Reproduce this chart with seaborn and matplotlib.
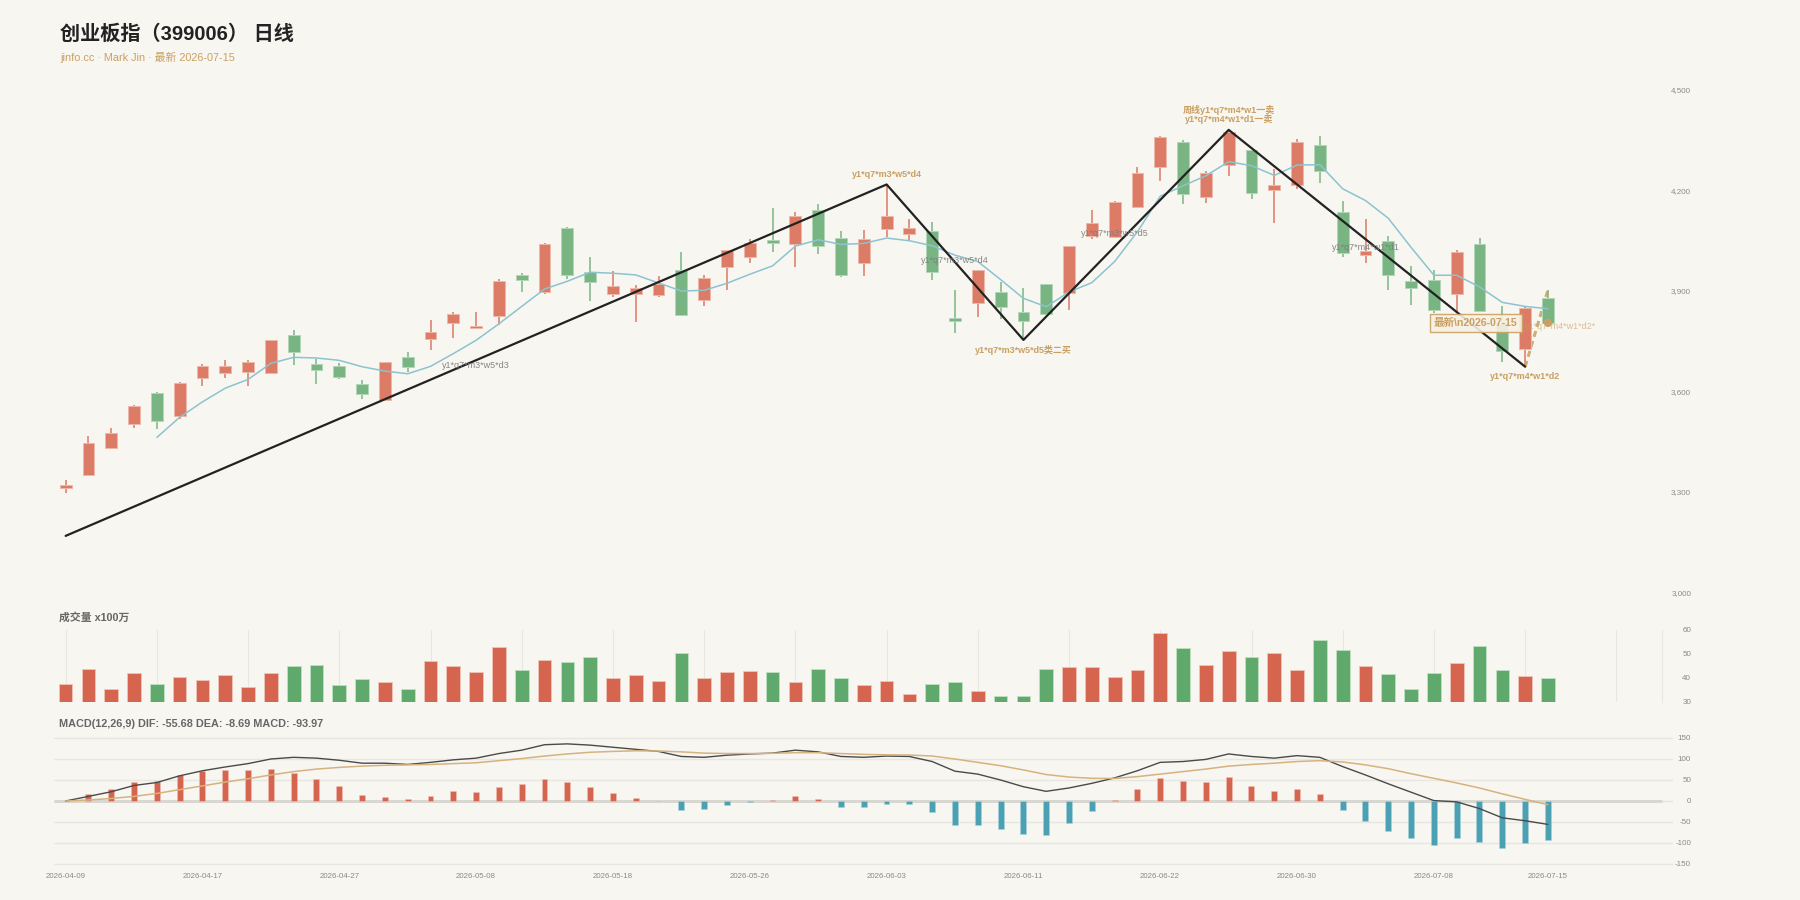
"""
创业板指 daily K-line with zigzag strokes, volume and MACD panels
"""
import numpy as np
import pandas as pd
import seaborn as sns
import matplotlib.pyplot as plt

# ---- data ----
dates = pd.bdate_range('2026-04-09', '2026-07-15', freq='C',
                       holidays=['2026-05-01', '2026-05-04', '2026-05-05', '2026-06-19'])

opens = [3313, 3351, 3430, 3504, 3595, 3528, 3640, 3654, 3659, 3656,
         3769, 3682, 3677, 3622, 3575, 3703, 3758, 3805, 3790, 3826,
         3947, 3897, 4087, 3958, 3892, 3892, 3887, 3962, 3874, 3973,
         4001, 4053, 4039, 4142, 4057, 3985, 4086, 4071, 4080, 3818,
         3863, 3896, 3837, 3920, 3894, 4064, 4060, 4152, 4271, 4345,
         4180, 4277, 4321, 4200, 4216, 4337, 4135, 4008, 4050, 3931,
         3932, 3890, 4041, 3803, 3727, 3878]
highs = [3337, 3468, 3490, 3560, 3598, 3628, 3683, 3694, 3693, 3755,
         3784, 3697, 3684, 3634, 3689, 3717, 3813, 3837, 3838, 3936,
         3954, 4042, 4090, 4002, 3960, 3917, 3945, 4015, 3947, 4022,
         4056, 4147, 4135, 4159, 4080, 4082, 4218, 4114, 4105, 3902,
         3963, 3926, 3909, 3921, 4034, 4141, 4168, 4271, 4362, 4351,
         4259, 4381, 4322, 4263, 4353, 4362, 4168, 4115, 4064, 3975,
         3963, 4022, 4059, 3855, 3853, 3903]
lows = [3298, 3350, 3428, 3491, 3489, 3517, 3617, 3641, 3617, 3654,
        3679, 3623, 3637, 3578, 3573, 3658, 3723, 3760, 3786, 3798,
        3896, 3892, 3936, 3870, 3882, 3807, 3883, 3826, 3854, 3904,
        3984, 4015, 3971, 4010, 3943, 3945, 4061, 4050, 3932, 3776,
        3822, 3817, 3754, 3829, 3842, 4054, 4059, 4150, 4229, 4160,
        4162, 4242, 4176, 4104, 4205, 4221, 4000, 3985, 3902, 3859,
        3833, 3835, 3840, 3689, 3674, 3800]
closes = [3321, 3447, 3475, 3558, 3512, 3625, 3677, 3676, 3688, 3753,
          3717, 3664, 3644, 3594, 3687, 3674, 3778, 3832, 3796, 3929,
          3933, 4039, 3949, 3928, 3915, 3908, 3920, 3828, 3938, 4021,
          4042, 4044, 4125, 4035, 3949, 4055, 4124, 4089, 3956, 3809,
          3962, 3853, 3809, 3830, 4033, 4102, 4167, 4252, 4361, 4190,
          4252, 4376, 4192, 4216, 4344, 4259, 4014, 4019, 3947, 3910,
          3843, 4017, 3841, 3721, 3850, 3805]

# MA5, first value sits on the 5th candle
ma5 = [3463, 3523, 3569, 3610, 3636, 3684, 3702, 3700, 3693, 3674,
       3661, 3653, 3675, 3713, 3753, 3802, 3854, 3906, 3929, 3956,
       3953, 3948, 3924, 3900, 3902, 3923, 3950, 3975, 4034, 4053,
       4039, 4042, 4058, 4050, 4035, 4007, 3988, 3934, 3878, 3853,
       3897, 3925, 3988, 4077, 4183, 4214, 4244, 4286, 4274, 4245,
       4276, 4277, 4205, 4170, 4117, 4030, 3947, 3947, 3912, 3866,
       3854, 3847]

volume = [37.3, 43.5, 35.3, 41.9, 37.5, 40.3, 39.2, 41.0, 36.0, 41.9,
          44.8, 45.3, 37.1, 39.5, 38.4, 35.5, 47.0, 44.9, 42.6, 53.0,
          43.3, 47.4, 46.6, 48.7, 39.8, 41.3, 38.7, 50.4, 39.9, 42.3,
          42.7, 42.4, 38.4, 43.8, 39.8, 37.0, 38.7, 33.4, 37.4, 38.1,
          34.5, 32.4, 32.5, 43.5, 44.4, 44.5, 40.2, 43.4, 58.7, 52.3,
          45.3, 51.1, 48.7, 50.2, 43.4, 55.8, 51.5, 44.9, 41.4, 35.4,
          42.1, 46.0, 53.4, 43.3, 40.6, 39.9]

dif = [0, 11, 22, 37, 44, 60, 72, 81, 89, 100,
       104, 102, 97, 90, 90, 87, 92, 98, 102, 113,
       121, 134, 136, 133, 128, 123, 118, 106, 104, 109,
       112, 114, 121, 117, 106, 104, 107, 106, 94, 71,
       64, 50, 34, 23, 31, 42, 55, 72, 92, 94,
       99, 112, 106, 102, 108, 104, 82, 62, 41, 21,
       1, -2, -18, -40, -47, -55.68]
dea = [0, 2.4, 6, 11, 18, 27, 36, 45, 53, 62,
       70, 76, 80, 83, 85, 86, 87, 89, 91, 96,
       101, 107, 112, 116, 118, 119.5, 119, 117, 114, 113,
       113, 113.5, 115, 115, 113, 111, 110, 109.5, 107, 100,
       92, 84, 74, 63, 57, 54, 53.6, 58, 64, 70,
       76, 83, 87, 90, 94, 96, 93, 86, 77, 65,
       54, 43, 31, 17, 4, -8.69]
macd_hist = [0, 16.7, 29.4, 46, 48.4, 61.9, 72.2, 74.6, 73, 75.4,
             67.5, 51.6, 35, 14.3, 10.3, 4.8, 12.7, 23, 21.4, 34.1,
             39.7, 52.4, 45.3, 32.5, 19, 7.1, -1, -20.6, -19.8, -9.5,
             -1.6, 1.5, 11, 3.9, -15, -14.3, -6.3, -6.3, -26.2, -57.1,
             -56.3, -67.4, -79.4, -80.2, -52.4, -23.8, 2.4, 27.8, 55.6, 47.6,
             46, 57.2, 36.5, 23, 27.8, 16.7, -22.2, -47.6, -72.2, -88.9,
             -105.5, -88.1, -96.8, -112.7, -100.8, -93.97]

# zigzag strokes (pivot candle, price) and their labels
zz_idx = [0, 36, 42, 51, 64]
zz_price = [3169, 4218, 3754, 4381, 3674]
zz_text = ['', 'y1*q7*m3*w5*d4', 'y1*q7*m3*w5*d5类二买',
           'y1*q7*m4*w1*d1一卖', 'y1*q7*m4*w1*d2']
week_text = '周线y1*q7*m4*w1一卖'
# unfinished stroke from last pivot
pending_idx = [64, 65]
pending_price = [3674, 3903]
pending_text = 'y1*q7*m4*w1*d2*'

# lower level labels
minor_idx = [18, 39, 46, 57]
minor_price = [3679, 3990, 4071, 4030]
minor_text = ['y1*q7*m3*w5*d3', 'y1*q7*m3*w5*d4', 'y1*q7*m3*w5*d5', 'y1*q7*m4*w1*d1']

title = '创业板指（399006） 日线'
subtitle = 'jinfo.cc · Mark Jin · 最新 2026-07-15'

# ---- style ----
BG = '#f8f6f1'
RED_C, GREEN_C = '#dc7b66', '#79b583'
RED_V, GREEN_V = '#d6654f', '#60a96c'
TEAL = '#4ba0b2'
GOLD = '#c9a063'
GRAY_TXT = '#8a8a8a'
GRID = '#e8e6e1'

sns.set_theme(style='white')
plt.rcParams['font.family'] = ['Liberation Sans', 'Noto Sans CJK SC', 'DejaVu Sans']
plt.rcParams['axes.unicode_minus'] = False

idx = np.arange(len(closes))
o, h, l, c = (np.array(v, dtype=float) for v in (opens, highs, lows, closes))
up = c >= o
x_left = -0.51
x_right = 70.0

fig = plt.figure(figsize=(18, 9), dpi=100, facecolor=BG)
ax = fig.add_axes([0.03, 0.34167, 0.89333, 0.55833], facecolor=BG)
axv = fig.add_axes([0.03, 0.22033, 0.89333, 0.07967], facecolor=BG)
axm = fig.add_axes([0.03, 0.03767, 0.89944, 0.14467], facecolor=BG)

# ---- main K-line ----
col = np.where(up, RED_C, GREEN_C)
edge = np.where(up, '#eeb8aa', '#b3d6b8')
ax.vlines(idx, l, h, colors=col, lw=1.1, zorder=2)
ax.bar(idx, np.maximum(np.abs(c - o), 3), bottom=np.minimum(o, c), width=0.52,
       color=col, edgecolor=edge, linewidth=0.7, zorder=3)
sns.lineplot(x=idx[4:], y=ma5, ax=ax, color='#8cc3cf', lw=1.1, zorder=4)
sns.lineplot(x=zz_idx, y=zz_price, ax=ax, color='#222222', lw=1.6, zorder=5)
ax.plot(pending_idx, pending_price, color=GOLD, lw=2.2, ls=(0, (2, 1.4)),
        alpha=0.85, zorder=2.5)
ax.scatter([idx[-1]], [c[-1]], s=36, color=GOLD, edgecolor='none', zorder=7)

for k in range(1, len(zz_idx)):
    is_peak = zz_price[k] > zz_price[k - 1]
    ax.annotate(zz_text[k], (zz_idx[k], zz_price[k]), xytext=(0, 7.5 if is_peak else -7.2),
                textcoords='offset points', ha='center', va='center',
                fontsize=6.5, fontweight='bold', color=GOLD, zorder=8)
    if zz_idx[k] == 51:
        ax.annotate(week_text, (zz_idx[k], zz_price[k]), xytext=(0, 14.2),
                    textcoords='offset points', ha='center', va='center',
                    fontsize=6.5, fontweight='bold', color=GOLD, zorder=8)

for xi, yi, t in zip(minor_idx, minor_price, minor_text):
    ax.text(xi, yi, t, ha='center', va='center', fontsize=6.5, color='#7a7a7a',
            alpha=0.9, zorder=8)

ax.annotate(pending_text, (idx[-1], c[-1]), xytext=(9, -3), textcoords='offset points',
            ha='center', va='center', fontsize=6.5, color=GOLD, alpha=0.65, zorder=8)
ax.annotate('最新\\n' + dates[-1].strftime('%Y-%m-%d'), (idx[-1], c[-1]),
            xytext=(-52, 0), textcoords='offset points', ha='center', va='center',
            fontsize=7.6, fontweight='bold', color=GOLD, zorder=9,
            bbox=dict(boxstyle='square,pad=0.4', fc='#f7f0e3', ec=GOLD, lw=1, alpha=0.9))

ax.set_xlim(x_left, x_right)
ax.set_ylim(3000, 4500)
ax.set_yticks(np.arange(3000, 4501, 300))
ax.set_yticklabels([f'{v:,}' for v in np.arange(3000, 4501, 300)])
ax.yaxis.tick_right()
ax.tick_params(axis='y', length=0, pad=21, labelsize=5.8, labelcolor=GRAY_TXT)
plt.setp(ax.get_yticklabels(), ha='right')
ax.set_xticks([])
ax.set_xlabel('')
ax.set_ylabel('')
sns.despine(ax=ax, left=True, bottom=True)
ax.spines['right'].set_visible(False)

# ---- volume ----
vcol = np.where(up, RED_V, GREEN_V)
vedge = np.where(up, '#f0c3b8', '#bfe0c4')
axv.bar(idx, volume, width=0.6, color=vcol, edgecolor=vedge, linewidth=0.6, zorder=2)
axv.set_xlim(x_left, x_right)
axv.set_ylim(30, 60)
axv.set_xticks(np.arange(0, 70, 4))
axv.set_xticklabels([])
axv.grid(axis='x', color=GRID, lw=0.8, zorder=0)
axv.grid(axis='y', visible=False)
axv.set_yticks([30, 40, 50, 60])
axv.yaxis.tick_right()
axv.tick_params(axis='both', length=0)
axv.tick_params(axis='y', pad=21, labelsize=5.8, labelcolor=GRAY_TXT)
plt.setp(axv.get_yticklabels(), ha='right')
for s in ['left', 'top', 'bottom']:
    axv.spines[s].set_visible(False)
axv.spines['right'].set_color(GRID)
axv.spines['right'].set_linewidth(0.8)

# ---- MACD ----
pos = np.array(macd_hist) >= 0
hcol = np.where(pos, RED_V, TEAL)
hedge = np.where(pos, '#efc0b5', '#a9d3dc')
axm.hlines(0, x_left, x_right, color='#d9d7d2', lw=2.2, zorder=1)
axm.bar(idx, macd_hist, width=0.26, color=hcol, edgecolor=hedge, linewidth=0.4, zorder=2)
sns.lineplot(x=idx, y=dif, ax=axm, color='#4a4a4a', lw=1.0, zorder=3)
sns.lineplot(x=idx, y=dea, ax=axm, color='#d6b27f', lw=1.1, zorder=3)
axm.set_xlim(x_left, 70.49)
axm.set_ylim(-155, 155)
axm.set_yticks(np.arange(-150, 151, 50))
axm.grid(axis='y', color=GRID, lw=1, zorder=0)
axm.grid(axis='x', visible=False)
axm.yaxis.tick_right()
axm.tick_params(axis='both', length=0)
axm.tick_params(axis='y', pad=13, labelsize=5.8, labelcolor=GRAY_TXT)
plt.setp(axm.get_yticklabels(), ha='right')
date_ticks = list(range(0, len(idx), 6)) + [len(idx) - 1]
axm.set_xticks(date_ticks)
axm.set_xticklabels([dates[t].strftime('%Y-%m-%d') for t in date_ticks])
axm.tick_params(axis='x', pad=5, labelsize=5.7, labelcolor=GRAY_TXT)
axm.set_xlabel('')
axm.set_ylabel('')
for s in axm.spines.values():
    s.set_visible(False)

# ---- texts ----
fig.text(0.0333, 1 - 34.4 / 900, title, fontsize=14.5, fontweight='bold',
         color='#222222', va='center')
fig.text(0.0333, 1 - 57.4 / 900, subtitle, fontsize=7.8, color=GOLD, va='center')
fig.text(0.033, 1 - 617.3 / 900, '成交量 x100万', fontsize=7.8, fontweight='bold',
         color='#666666', va='center')
fig.text(0.033, 1 - 724 / 900,
         f'MACD(12,26,9) DIF: {dif[-1]:.2f} DEA: {dea[-1]:.2f} MACD: {macd_hist[-1]:.2f}',
         fontsize=7.8, fontweight='bold', color='#666666', va='center')

fig.savefig('out.png', dpi=100, facecolor=BG)
